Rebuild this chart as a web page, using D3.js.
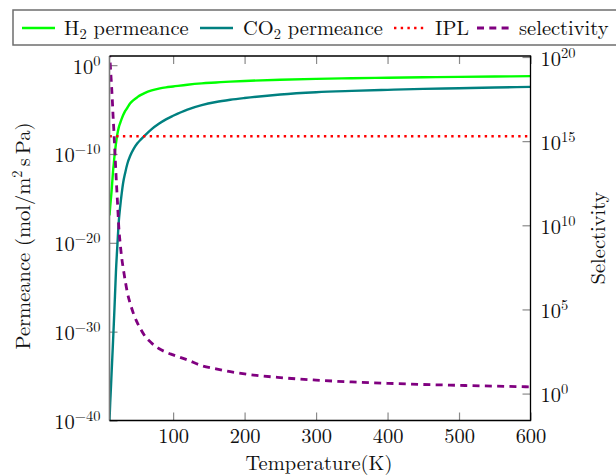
<!DOCTYPE html>
<html>
<head>
<meta charset="utf-8">
<script src="https://cdn.jsdelivr.net/npm/d3@7"></script>
<style>
  body { margin: 0; background: #fff; }
</style>
</head>
<body>
<svg id="chart" width="616" height="476"></svg>
<script>
// Temperature grid (K)
const temperature = [11, 12, 13, 14, 15, 16, 17, 18, 19, 20, 22, 24, 26, 28, 30, 33, 36, 40, 45, 50,
  55, 60, 70, 80, 90, 100, 120, 140, 160, 180, 200, 250, 300, 350, 400, 450, 500, 550, 600];

// log10 of H2 permeance, mol/(m^2 s Pa)
const h2LogPermeance = [-16.9, -15.9, -15.0, -14.1, -13.0, -11.9, -11.1, -10.2, -9.5, -8.85, -7.75, -7.0,
  -6.5, -6.05, -5.65, -5.15, -4.8, -4.3, -3.9, -3.6, -3.35, -3.15, -2.85, -2.65, -2.5, -2.4, -2.2,
  -2.05, -1.95, -1.85, -1.78, -1.64, -1.54, -1.47, -1.42, -1.37, -1.32, -1.28, -1.24];

// log10 of CO2 permeance, mol/(m^2 s Pa)
const co2LogPermeance = [-40.0, -38.0, -36.3, -34.5, -32.8, -31.0, -29.2, -27.3, -25.3, -23.3, -20.3, -17.6,
  -15.9, -14.5, -13.3, -12.1, -11.1, -10.2, -9.4, -8.8, -8.35, -7.95, -7.2, -6.6, -6.1, -5.7, -5.0,
  -4.5, -4.15, -3.9, -3.7, -3.3, -3.05, -2.9, -2.78, -2.67, -2.6, -2.52, -2.44];

// log10 of H2/CO2 selectivity
const logSelectivity = [20.4, 19.6, 18.9, 18.2, 17.4, 16.5, 15.7, 14.8, 14.0, 13.1, 11.5, 9.9,
  8.9, 8.1, 7.5, 6.7, 6.0, 5.35, 4.7, 4.2, 3.8, 3.45, 3.0, 2.68, 2.46, 2.3, 2.0,
  1.66, 1.47, 1.3, 1.17, 0.95, 0.8, 0.69, 0.61, 0.54, 0.49, 0.44, 0.40];

// Industrial permeance limit
const iplPermeance = 1e-8;

// Tick values
const xTicks = [100, 200, 300, 400, 500, 600];
const leftTicks = [1e-40, 1e-30, 1e-20, 1e-10, 1];
const rightTicks = [1, 1e5, 1e10, 1e15, 1e20];

const legendNames = ["H", "CO", "IPL", "selectivity"];
const legendSubs = ["2", "2", "", ""];
const legendTails = [" permeance", " permeance", "", ""];

const h2Permeance = h2LogPermeance.map(v => Math.pow(10, v));
const co2Permeance = co2LogPermeance.map(v => Math.pow(10, v));
const selectivity = logSelectivity.map(v => Math.pow(10, v));

const FONT = "Latin Modern Roman";
const FS = "20.5px";
const FS_SMALL = "14.5px";
const svg = d3.select("#chart");
const plot = { left: 109.5, right: 530.5, top: 56, bottom: 420.5 };

const x = d3.scaleLinear().domain([11, 600]).range([plot.left, plot.right]);
const yLeft = d3.scaleLog().domain([1e-40, Math.pow(10, 1.03)]).range([plot.bottom, plot.top]);
const yRight = d3.scaleLog().domain([Math.pow(10, -1.6), Math.pow(10, 20.06)]).range([plot.bottom, plot.top]);

const tickColor = "#8a8a8a";

svg.append("defs").append("clipPath").attr("id", "plotClip")
  .append("rect")
  .attr("x", plot.left).attr("y", plot.top)
  .attr("width", plot.right - plot.left).attr("height", plot.bottom - plot.top);

// Exponent labels: base 10 with a raised exponent
function powerLabel(sel, v) {
  const e = Math.round(Math.log10(v));
  sel.text(null);
  sel.append("tspan").text("10");
  sel.append("tspan").attr("dy", -8).style("font-size", FS_SMALL)
    .text(e < 0 ? "\u2212" + (-e) : String(e));
}

// Bottom axis
const xAxis = svg.append("g").attr("transform", `translate(0,${plot.bottom})`)
  .call(d3.axisBottom(x).tickValues(xTicks).tickSize(-8).tickPadding(0).tickFormat(d3.format("d")));
xAxis.select(".domain").remove();
xAxis.selectAll(".tick line").attr("stroke", tickColor).attr("stroke-width", 1.2);
xAxis.selectAll(".tick text").attr("y", 22).attr("dy", 0).style("font-size", FS);

// Top mirrored ticks
const xTop = svg.append("g").attr("transform", `translate(0,${plot.top})`)
  .call(d3.axisTop(x).tickValues(xTicks).tickSize(-8).tickFormat(""));
xTop.select(".domain").remove();
xTop.selectAll(".tick line").attr("stroke", tickColor).attr("stroke-width", 1.2);

// Left axis
const yAxisL = svg.append("g").attr("transform", `translate(${plot.left},0)`)
  .call(d3.axisLeft(yLeft).tickValues(leftTicks).tickSize(-8).tickPadding(9));
yAxisL.select(".domain").remove();
yAxisL.selectAll(".tick line").attr("stroke", tickColor).attr("stroke-width", 1.2);
yAxisL.selectAll(".tick text").attr("dy", 8).style("font-size", FS)
  .each(function(d) { powerLabel(d3.select(this), d); });

// Right axis
const yAxisR = svg.append("g").attr("transform", `translate(${plot.right},0)`)
  .call(d3.axisRight(yRight).tickValues(rightTicks).tickSize(-8).tickPadding(10));
yAxisR.select(".domain").remove();
yAxisR.selectAll(".tick line").attr("stroke", tickColor).attr("stroke-width", 1.2);
yAxisR.selectAll(".tick text").attr("dy", 8).style("font-size", FS)
  .each(function(d) { powerLabel(d3.select(this), d); });

// Data curves
const curves = svg.append("g").attr("clip-path", "url(#plotClip)");
const lineL = (vals) => d3.line().x((d, i) => x(temperature[i])).y(d => yLeft(d)).curve(d3.curveMonotoneX)(vals);
const lineR = (vals) => d3.line().x((d, i) => x(temperature[i])).y(d => yRight(d)).curve(d3.curveMonotoneX)(vals);

curves.append("path").attr("d", lineL(h2Permeance))
  .attr("fill", "none").attr("stroke", "#00ff00").attr("stroke-width", 2.4);
curves.append("path").attr("d", lineL(co2Permeance))
  .attr("fill", "none").attr("stroke", "#008080").attr("stroke-width", 2.4);
curves.append("line")
  .attr("x1", x(11)).attr("x2", x(600))
  .attr("y1", yLeft(iplPermeance)).attr("y2", yLeft(iplPermeance))
  .attr("stroke", "#ff0000").attr("stroke-width", 2.4).attr("stroke-dasharray", "2.4,4.3");
curves.append("path").attr("d", lineR(selectivity))
  .attr("fill", "none").attr("stroke", "#800080").attr("stroke-width", 2.8)
  .attr("stroke-dasharray", "7,5.3");

// Frame
svg.append("line").attr("x1", plot.left).attr("x2", plot.left).attr("y1", plot.top).attr("y2", plot.bottom)
  .attr("stroke", "#7a7a7a").attr("stroke-width", 1.6);
svg.append("path")
  .attr("d", `M${plot.left},${plot.top}H${plot.right}V${plot.bottom}H${plot.left}`)
  .attr("fill", "none").attr("stroke", "#000").attr("stroke-width", 1.3);

// Axis titles
svg.append("text").attr("x", 319).attr("y", 470).attr("text-anchor", "middle")
  .style("font-size", FS).text("Temperature(K)");

const yTitle = svg.append("text").attr("transform", "translate(30,236) rotate(-90)")
  .attr("text-anchor", "middle").style("font-size", FS);
yTitle.append("tspan").text("Permeance (mol/m");
yTitle.append("tspan").attr("dy", -8).style("font-size", FS_SMALL).text("2");
yTitle.append("tspan").attr("dy", 8).text("\u2009s\u2009Pa)");

svg.append("text").attr("transform", "translate(605,238) rotate(-90)")
  .attr("text-anchor", "middle").style("font-size", FS).text("Selectivity");

// Legend
const legend = svg.append("g");
legend.append("rect").attr("x", 13).attr("y", 10).attr("width", 620).attr("height", 35)
  .attr("fill", "#fff").attr("stroke", "#6e6e6e").attr("stroke-width", 1.5);

const legendStyles = [
  { color: "#00ff00", width: 2.4, dash: null },
  { color: "#008080", width: 2.4, dash: null },
  { color: "#ff0000", width: 2.4, dash: "2.4,4.3" },
  { color: "#800080", width: 2.8, dash: "7,5.3" }
];
const legendLineX = [22, 200, 394, 477];
const legendTextX = [64, 243, 435, 519];
const legendY = 28;

legendNames.forEach((name, i) => {
  const st = legendStyles[i];
  legend.append("line")
    .attr("x1", legendLineX[i]).attr("x2", legendLineX[i] + 33)
    .attr("y1", legendY).attr("y2", legendY)
    .attr("stroke", st.color).attr("stroke-width", st.width)
    .attr("stroke-dasharray", st.dash);
  const t = legend.append("text").attr("x", legendTextX[i]).attr("y", legendY + 7)
    .style("font-size", FS);
  t.append("tspan").text(name);
  if (legendSubs[i]) {
    t.append("tspan").attr("dy", 4).style("font-size", FS_SMALL).text(legendSubs[i]);
    t.append("tspan").attr("dy", -4).text(legendTails[i]);
  }
});

// Computer Modern style type throughout
svg.selectAll("text")
  .attr("font-family", FONT)
  .style("font-family", FONT)
  .attr("fill", "#111")
  .style("fill", "#111");
</script>
</body>
</html>
